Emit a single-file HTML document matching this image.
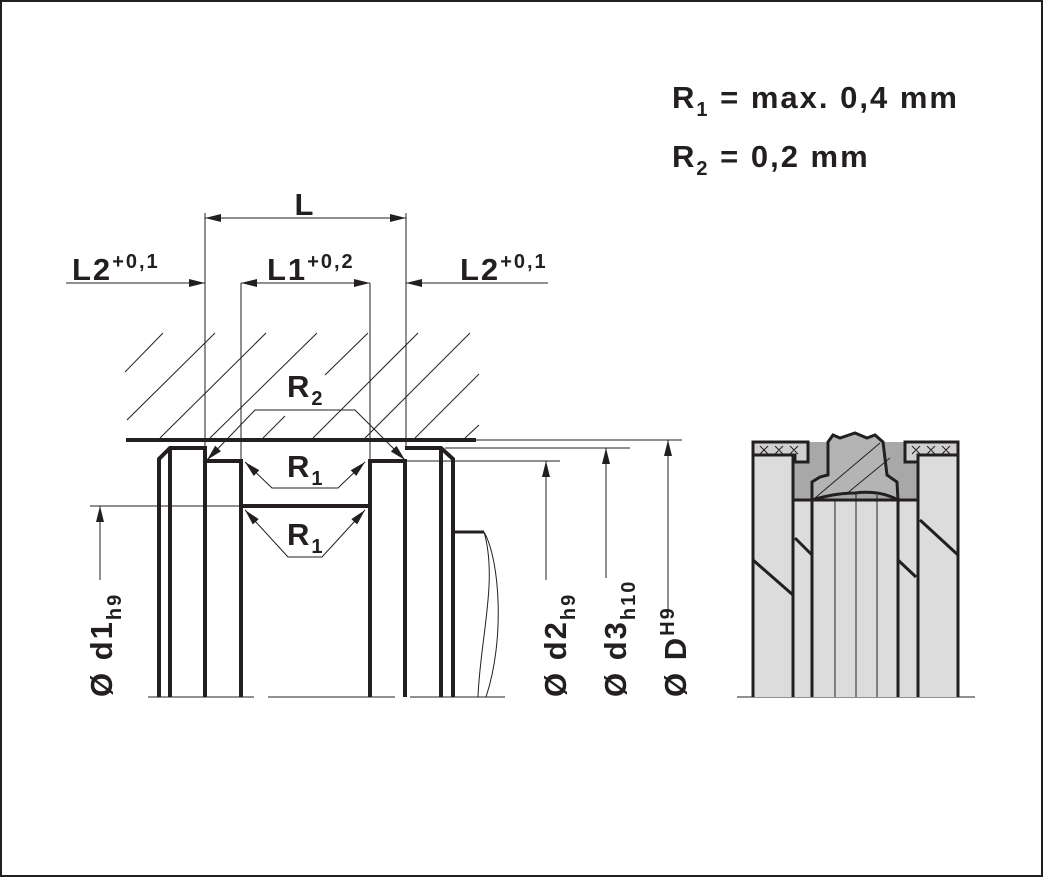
<!DOCTYPE html>
<html><head><meta charset="utf-8"><style>
html,body{margin:0;padding:0;background:#fff}
svg{display:block}
text{font-family:"Liberation Sans",Arial,sans-serif;font-weight:bold;fill:#231f20;letter-spacing:2px}
</style></head><body>
<svg width="1043" height="877" viewBox="0 0 1043 877" xmlns="http://www.w3.org/2000/svg">
<defs>
<marker id="b" markerWidth="16" markerHeight="8" refX="16" refY="4" orient="auto-start-reverse" markerUnits="userSpaceOnUse" viewBox="0 0 16 8">
<path d="M0,0 L16,4 L0,8 z" fill="#231f20"/></marker>
</defs>
<rect x="1" y="1" width="1041" height="875" fill="#fff" stroke="#231f20" stroke-width="2"/>

<text x="672" y="108" font-size="31">R<tspan font-size="20" dy="8">1</tspan><tspan dy="-8"> = max. 0,4 mm</tspan></text>
<text x="672" y="167" font-size="31">R<tspan font-size="20" dy="8">2</tspan><tspan dy="-8"> = 0,2 mm</tspan></text>

<!-- hatching -->
<g stroke="#231f20" stroke-width="1">
<line x1="125" y1="372" x2="163" y2="333"/>
<line x1="127" y1="420" x2="215" y2="333"/>
<line x1="160" y1="438" x2="266" y2="333"/>
<line x1="210" y1="438" x2="317" y2="333"/>
<line x1="263" y1="438" x2="285" y2="416"/>
<line x1="313" y1="438" x2="418" y2="333"/>
<line x1="325" y1="375" x2="368" y2="333"/>
<line x1="365" y1="438" x2="470" y2="333"/>
<line x1="415" y1="438" x2="479" y2="374"/>
<line x1="465" y1="438" x2="479" y2="425"/>
</g>
<line x1="126" y1="440" x2="476" y2="440" stroke="#231f20" stroke-width="4"/>
<g stroke="#231f20" stroke-width="1" fill="none">
<line x1="476" y1="440" x2="682" y2="440"/>
<line x1="445" y1="448" x2="630" y2="448"/>
<line x1="405" y1="461" x2="560" y2="461"/>
<line x1="90" y1="506" x2="241" y2="506"/>
<line x1="205" y1="213" x2="205" y2="448"/>
<line x1="406" y1="213" x2="406" y2="448"/>
<line x1="241" y1="283" x2="241" y2="461"/>
<line x1="370" y1="283" x2="370" y2="461"/>
<line x1="148" y1="697" x2="254" y2="697"/>
<line x1="268" y1="697" x2="395" y2="697"/>
<line x1="410" y1="697" x2="505" y2="697"/>
<line x1="737" y1="697" x2="975" y2="697"/>
</g>
<g stroke="#231f20" stroke-width="4" fill="none">
<path d="M159,697 V459 L170,448 H205 V697 M170,448 V697"/>
<path d="M205,461 H241 V697 M241,506 H370 M370,697 V461 H405 V697"/>
<path d="M405,448 H441 L453,459 V697 M441,448 V697"/>
<path d="M453,532 H484" stroke-width="3"/>
</g>
<path d="M484,532 C500,560 505,640 486,697 M484,532 C498,580 480,640 478,697" stroke="#231f20" stroke-width="1" fill="none"/>

<g stroke="#231f20" stroke-width="1" fill="none">
<line x1="205" y1="218" x2="406" y2="218" marker-start="url(#b)" marker-end="url(#b)"/>
<line x1="241" y1="283" x2="370" y2="283" marker-start="url(#b)" marker-end="url(#b)"/>
<line x1="66" y1="283" x2="205" y2="283" marker-end="url(#b)"/>
<line x1="548" y1="283" x2="406" y2="283" marker-end="url(#b)"/>
<polyline points="207,460 255,410 355,410 405,460" marker-start="url(#b)" marker-end="url(#b)"/>
<polyline points="245,462 272,488 338,488 365,462" marker-start="url(#b)" marker-end="url(#b)"/>
<polyline points="245,510 288,557 322,557 365,510" marker-start="url(#b)" marker-end="url(#b)"/>
<line x1="100" y1="580" x2="100" y2="506" marker-end="url(#b)"/>
<line x1="546" y1="580" x2="546" y2="461" marker-end="url(#b)"/>
<line x1="606" y1="578" x2="606" y2="448" marker-end="url(#b)"/>
<line x1="668" y1="618" x2="668" y2="440" marker-end="url(#b)"/>
</g>
<text x="305" y="215" font-size="31" text-anchor="middle">L</text>
<text x="72" y="280" font-size="31">L2<tspan font-size="20" dy="-12">+0,1</tspan></text>
<text x="267" y="280" font-size="31">L1<tspan font-size="20" dy="-12">+0,2</tspan></text>
<text x="460" y="280" font-size="31">L2<tspan font-size="20" dy="-12">+0,1</tspan></text>
<text x="287" y="397" font-size="31">R<tspan font-size="20" dy="8">2</tspan></text>
<text x="287" y="477" font-size="31">R<tspan font-size="20" dy="8">1</tspan></text>
<text x="287" y="545" font-size="31">R<tspan font-size="20" dy="8">1</tspan></text>

<text transform="translate(112,697) rotate(-90)" font-size="31">Ø d1<tspan font-size="20" dy="9">h9</tspan></text>
<text transform="translate(566,697) rotate(-90)" font-size="31">Ø d2<tspan font-size="20" dy="9">h9</tspan></text>
<text transform="translate(626,697) rotate(-90)" font-size="31">Ø d3<tspan font-size="20" dy="9">h10</tspan></text>
<text transform="translate(686,697) rotate(-90)" font-size="31">Ø D<tspan font-size="20" dy="-12">H9</tspan></text>

<!-- right section drawing -->
<rect x="753" y="442" width="205" height="255" fill="#dcdcdc"/>
<rect x="793" y="442" width="125" height="58" fill="#a8a8a8"/>
<path d="M753,442 H808 V462 H795 V455 H753 Z M905,442 H958 V455 H918 V462 H905 Z" fill="#d0d0d0" stroke="#231f20" stroke-width="3"/>
<path d="M828,442 L833,435 L840,438 L855,433 L867,438 L875,435 L883,442 L887,475 L897,482 L898,500 Q880,490 855,493 Q835,493 812,500 L812,482 L820,477 L828,475 Z" fill="#b4b4b4" stroke="#231f20" stroke-width="3"/>
<g stroke="#231f20" stroke-width="3" fill="none">
<line x1="753" y1="442" x2="753" y2="697"/>
<line x1="793" y1="455" x2="793" y2="697"/>
<line x1="812" y1="500" x2="812" y2="697"/>
<line x1="898" y1="500" x2="898" y2="697"/>
<line x1="918" y1="455" x2="918" y2="697"/>
<line x1="958" y1="442" x2="958" y2="697"/>
<line x1="793" y1="500" x2="918" y2="500"/>
<line x1="753" y1="560" x2="793" y2="595"/>
<line x1="795" y1="538" x2="812" y2="555"/>
<line x1="898" y1="560" x2="916" y2="577"/>
<line x1="920" y1="520" x2="958" y2="555"/>
</g>
<g stroke="#231f20" stroke-width="1" fill="none">
<line x1="835" y1="500" x2="835" y2="697"/>
<line x1="856" y1="493" x2="856" y2="697"/>
<line x1="877" y1="495" x2="877" y2="697"/>
<line x1="815" y1="498" x2="880" y2="443"/>
<line x1="845" y1="495" x2="890" y2="458"/>
<path d="M760,446 l8,8 m0,-8 l-8,8 M775,446 l8,8 m0,-8 l-8,8 M790,446 l8,8 m0,-8 l-8,8 M912,446 l8,8 m0,-8 l-8,8 M927,446 l8,8 m0,-8 l-8,8 M942,446 l8,8 m0,-8 l-8,8"/>
</g>
</svg>
</body></html>
